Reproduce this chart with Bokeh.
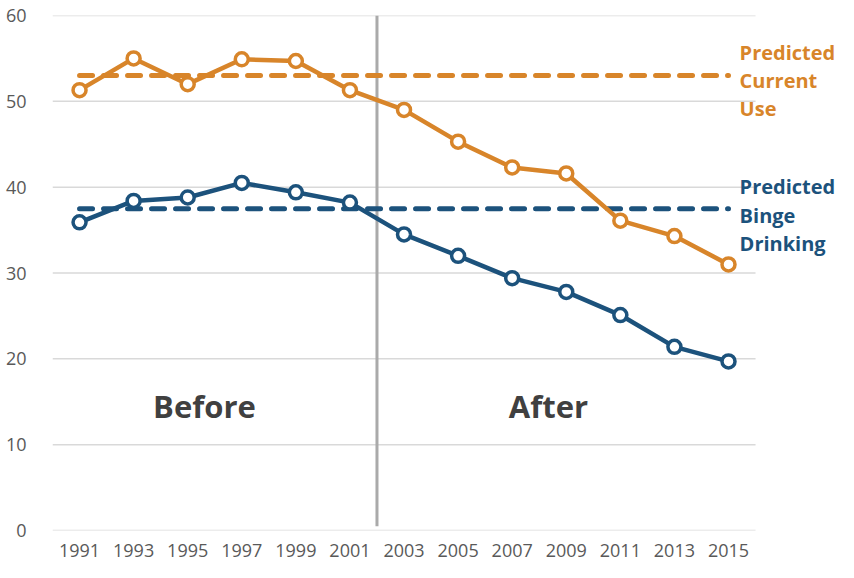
from bokeh.plotting import figure
from bokeh.models import FixedTicker, Label, Range1d
from bokeh.embed import file_html
from bokeh.resources import INLINE

years = [1991, 1993, 1995, 1997, 1999, 2001, 2003, 2005, 2007, 2009, 2011, 2013, 2015]
current_use = [51.3, 55.0, 52.0, 54.9, 54.7, 51.3, 49.0, 45.3, 42.3, 41.6, 36.1, 34.3, 31.0]
binge_drinking = [35.9, 38.4, 38.8, 40.5, 39.4, 38.2, 34.5, 32.0, 29.4, 27.8, 25.1, 21.4, 19.7]
predicted_current = 53.0
predicted_binge = 37.5
policy_year = 2002
y_ticks = [0, 10, 20, 30, 40, 50, 60]
current_label = ["Predicted", "Current", "Use"]
binge_label = ["Predicted", "Binge", "Drinking"]
period_labels = ["Before", "After"]

ORANGE = "#D8852A"
BLUE = "#1C527C"
FONT = "Open Sans"

W, H = 838, 562
LEFT, TOP, BOTTOM = 52, 15, 32
px_per_year = 27.04
x_max = 1990 + (W - LEFT) / px_per_year

p = figure(width=W, height=H, output_backend="svg", toolbar_location=None,
           x_range=Range1d(1990, x_max), y_range=Range1d(0, 60),
           min_border_left=LEFT, min_border_right=0, min_border_top=TOP,
           min_border_bottom=BOTTOM)
p.outline_line_color = None
p.background_fill_color = "white"
p.border_fill_color = "white"

p.xgrid.grid_line_color = None
p.ygrid.grid_line_color = None
p.yaxis.ticker = FixedTicker(ticks=y_ticks)
p.xaxis.ticker = FixedTicker(ticks=years)
for ax in (p.xaxis, p.yaxis):
    ax.axis_line_color = None
    ax.major_tick_line_color = None
    ax.minor_tick_line_color = None
    ax.major_label_text_font = FONT
    ax.major_label_text_font_size = "18px"
    ax.major_label_text_color = "#595959"
p.yaxis.major_label_standoff = 20
p.xaxis.major_label_standoff = 7

# horizontal gridlines, ending at the data area (1990-2016)
p.segment(x0=[1990] * len(y_ticks), y0=y_ticks, x1=[2016] * len(y_ticks), y1=y_ticks,
          line_color="#d9d9d9", line_width=1.5)

# divider
p.line([policy_year, policy_year], [0.5, 60], line_color="#aaaaaa", line_width=3)

# predicted dashed lines
p.line([years[0], years[-1]], [predicted_current] * 2, line_color=ORANGE, line_width=5,
       line_dash="13 11", line_cap="round")
p.line([years[0], years[-1]], [predicted_binge] * 2, line_color=BLUE, line_width=5,
       line_dash="13 11", line_cap="round")

# series
for vals, col in ((current_use, ORANGE), (binge_drinking, BLUE)):
    p.line(years, vals, line_color=col, line_width=4.5, line_join="round")
    p.scatter(years, vals, size=13, fill_color="white", line_color=col, line_width=3.5)

# right labels
step = 3.27
for i, t in enumerate(current_label):
    p.add_layout(Label(x=2015.41, y=55.73 - i * step, text=t, text_font=FONT,
                       text_font_size="20px", text_font_style="bold", text_color=ORANGE,
                       text_baseline="alphabetic", text_align="left"))
for i, t in enumerate(binge_label):
    p.add_layout(Label(x=2015.41, y=40.02 - i * step, text=t, text_font=FONT,
                       text_font_size="20px", text_font_style="bold", text_color=BLUE,
                       text_baseline="alphabetic", text_align="left"))

# period labels
for t, xc in zip(period_labels, (1995.62, 2008.34)):
    p.add_layout(Label(x=xc, y=14.45, text=t, text_font=FONT, text_font_size="31px",
                       text_font_style="bold", text_color="#404040",
                       text_baseline="alphabetic", text_align="center"))

open("out.html", "w").write(file_html(p, INLINE))
